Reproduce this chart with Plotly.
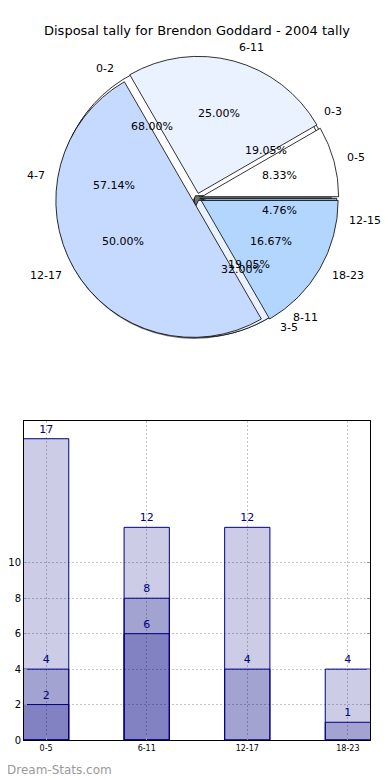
import math
import plotly.graph_objects as go

# ---------------- data ----------------
title_text = "Disposal tally for Brendon Goddard - 2004 tally"

pie_a_labels = ["0-5", "6-11", "12-17", "18-23"]
pie_a_values = [1, 3, 6, 2]
pie_b_labels = ["0-3", "4-7", "8-11", "12-15"]
pie_b_values = [4, 12, 4, 1]
pie_c_labels = ["0-2", "3-5"]
pie_c_values = [17, 8]

pie_colors = ["#ffffff", "#eaf1ff", "#c6d9ff", "#b3d6ff"]

bar_cats = ["0-5", "6-11", "12-17", "18-23"]
bar_total = [17, 12, 12, 4]
bar_mid = [4, 8, 4, 1]
bar_low = [2, 6, None, None]
y_ticks = [0, 2, 4, 6, 8, 10]

# ---------------- geometry (target window pixels) ----------------
OFF = 8                      # page body margin
W, H = 390 - OFF, 780 - OFF  # figure size
ML, MR, MT = 19 - OFF, 20, 0
PLOT_BOTTOM = 740 - OFF
MB = H - PLOT_BOTTOM
PW, PH = W - ML - MR, PLOT_BOTTOM - MT
FONT = "DejaVu Sans"

CX, CY, R, PULL = 194.5, 198.0, 137.0, 0.035


def fx(px):
    return (px - OFF - ML) / PW


def fy(py):
    return (MT + PH - (py - OFF)) / PH


def pie_domain(cy, r, pull):
    ry = r * (1 + pull)
    return [fy(cy + ry), fy(cy - ry)]


fig = go.Figure()

# shadow (slightly offset down-left)
sh_c = fx(CX - 3)
sh_half = min(sh_c, 1 - sh_c)
fig.add_trace(go.Pie(values=[1], labels=["shadow"], sort=False,
                     marker=dict(colors=["rgba(70,70,70,0.75)"], line=dict(width=0)),
                     textinfo="none", hoverinfo="skip", showlegend=False,
                     domain=dict(x=[sh_c - sh_half, sh_c + sh_half],
                                 y=pie_domain(CY + 3, R + 1, 0))))

annotations = []


def add_pie(labels, values, pull):
    total = sum(values)
    # plotly (counterclockwise) puts the first slice clockwise of the start line
    rot = 90 - 360.0 * values[0] / total
    fig.add_trace(go.Pie(
        values=values, labels=labels, sort=False, direction="counterclockwise",
        rotation=rot, pull=[pull] * len(values),
        marker=dict(colors=pie_colors[:len(values)], line=dict(color="black", width=0.8)),
        textinfo="none", hoverinfo="skip", showlegend=False,
        domain=dict(x=[0, 1], y=pie_domain(CY, R, pull))))
    start = 0.0
    for lab, v in zip(labels, values):
        ang = 360.0 * v / total
        mid = math.radians(start + ang / 2)
        start += ang
        ox = CX + pull * R * math.cos(mid)
        oy = CY - pull * R * math.sin(mid)
        annotations.append(dict(
            x=fx(ox + 0.6 * R * math.cos(mid)), y=fy(oy - 0.6 * R * math.sin(mid)),
            xref="paper", yref="paper", text="%.2f%%" % (100.0 * v / total),
            showarrow=False, xanchor="center", yanchor="middle",
            font=dict(family=FONT, size=11, color="black")))
        lx = ox + 1.1 * R * math.cos(mid)
        ly = oy - 1.1 * R * math.sin(mid)
        annotations.append(dict(
            x=fx(lx), y=fy(ly), xref="paper", yref="paper", text=lab,
            showarrow=False, xanchor="left" if math.cos(mid) > 0 else "right",
            yanchor="middle", font=dict(family=FONT, size=11, color="black")))


add_pie(pie_b_labels, pie_b_values, 0.02)
add_pie(pie_c_labels, pie_c_values, 0.02)
add_pie(pie_a_labels, pie_a_values, PULL)

# ---------------- bars ----------------
bar_fill = "rgba(0,0,128,0.2)"
for vals in (bar_total, bar_mid, bar_low):
    fig.add_trace(go.Bar(
        x=bar_cats, y=vals, width=0.45, xaxis="x", yaxis="y",
        marker=dict(color=bar_fill, line=dict(color="navy", width=1)),
        text=[("%d" % v) if v is not None else "" for v in vals],
        textposition="outside", cliponaxis=False,
        outsidetextfont=dict(family=FONT, size=11, color="navy"),
        hoverinfo="skip", showlegend=False))

bar_top_frac = fy(421)
GRID = dict(showgrid=True, gridcolor="#c4c4c4", griddash="2px,2px", gridwidth=1)

fig.update_layout(
    width=W, height=H, margin=dict(l=ML, r=MR, t=MT, b=MB),
    paper_bgcolor="white", plot_bgcolor="white",
    barmode="overlay",
    font=dict(family=FONT, color="black"),
    title=dict(text=title_text, x=0.5, xanchor="center", xref="paper",
               y=1 - (30 - OFF) / H, yref="container", yanchor="middle",
               font=dict(family=FONT, size=13, color="black")),
    xaxis=dict(domain=[0, 1], anchor="y", range=[-0.22, 3.22],
               showline=True, mirror=True, linecolor="black", linewidth=1,
               ticks="inside", ticklen=3, tickcolor="#999",
               tickfont=dict(family=FONT, size=8, color="black"), **GRID),
    yaxis=dict(domain=[0, bar_top_frac], anchor="x", range=[0, 18],
               tickvals=y_ticks, showline=True, mirror="allticks", linecolor="black",
               linewidth=1, zeroline=False, ticks="inside", ticklen=3, tickcolor="#999",
               tickfont=dict(family=FONT, size=10, color="black"), **GRID),
    annotations=annotations + [dict(
        x=fx(0), y=fy(770), xref="paper", yref="paper", text="Dream-Stats.com",
        showarrow=False, xanchor="left", yanchor="middle",
        font=dict(family=FONT, size=12, color="#9a9a9a"))],
)

fig.write_html("out.html")
